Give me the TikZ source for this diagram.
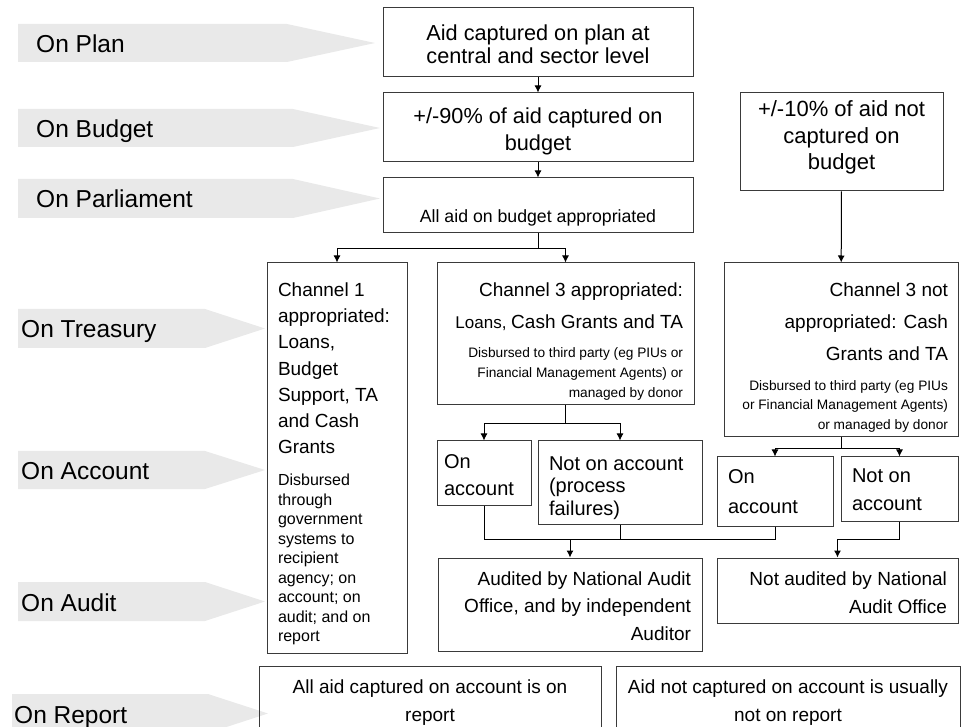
\documentclass[tikz,border=0pt]{standalone}
\usepackage{fontspec}
\setmainfont{Liberation Sans}
\usetikzlibrary{arrows.meta}
\definecolor{bandgray}{HTML}{E9E9E9}
\definecolor{boxline}{HTML}{3A3A3A}
\newcommand{\boxcell}[4]{\begin{minipage}[c][#2][t]{#1}\vspace*{#3}#4\end{minipage}}

\begin{document}
\begin{tikzpicture}[x=1pt,y=-1pt,>={Latex[length=7pt,width=7pt]}]
        \tikzstyle{box}=[draw=boxline,line width=1pt,rectangle,inner sep=0pt]
        \tikzstyle{stage}=[anchor=base west,inner sep=0pt,font=\fontsize{24.5}{28}\selectfont]
        \tikzstyle{link}=[line width=1pt,black]
        \useasboundingbox (0,0) rectangle (962,727);
        \clip (0,0) rectangle (962,727);

        \fill[bandgray] (18,24) -- (287,24) -- (375,43) -- (287,62) -- (18,62) -- cycle;
        \fill[bandgray] (18,109) -- (293,109) -- (380,128) -- (293,147) -- (18,147) -- cycle;
        \fill[bandgray] (18,179) -- (293,179) -- (380,198.5) -- (293,218) -- (18,218) -- cycle;
        \fill[bandgray] (18,309) -- (205,309) -- (265,328.5) -- (205,348) -- (18,348) -- cycle;
        \fill[bandgray] (18,451) -- (205,451) -- (265,470) -- (205,489) -- (18,489) -- cycle;
        \fill[bandgray] (18,582) -- (205,582) -- (265,601.5) -- (205,621) -- (18,621) -- cycle;
        \fill[bandgray] (12,694) -- (208,694) -- (268,713.5) -- (208,733) -- (12,733) -- cycle;
        \node[stage] (sPlan) at (36,52.5) {On Plan};
        \node[stage] (sBudget) at (36,137.5) {On Budget};
        \node[stage] (sParl) at (36,208) {On Parliament};
        \node[stage] (sTreas) at (21,338) {On Treasury};
        \node[stage] (sAcc) at (21,479.5) {On Account};
        \node[stage] (sAudit) at (21,611) {On Audit};
        \node[stage] (sReport) at (14,723) {On Report};

        \node[box,minimum width=310pt,minimum height=69pt] (plan) at (538,42.5)
            {\boxcell{290pt}{69pt}{17pt}{\centering\fontsize{21.7}{22.5}\selectfont
            Aid captured on plan at\\central and sector level}};
        \node[box,minimum width=310pt,minimum height=69pt] (onbud) at (538,127.5)
            {\boxcell{290pt}{69pt}{15pt}{\centering\fontsize{21.7}{27}\selectfont
            +/-90\% of aid captured on\\budget}};
        \node[box,minimum width=310pt,minimum height=55pt] (approp) at (538,205.5)
            {\boxcell{290pt}{55pt}{32pt}{\centering\fontsize{17.7}{20}\selectfont
            All aid on budget appropriated}};
        \node[box,minimum width=203pt,minimum height=98pt] (offbud) at (841.5,142)
            {\boxcell{190pt}{98pt}{8pt}{\centering\fontsize{22}{26.5}\selectfont
            +/-10\% of aid not\\captured on\\budget}};

        \node[box,minimum width=140pt,minimum height=390pt] (ch1) at (337,458)
            {\boxcell{118pt}{390pt}{20pt}{\raggedright\fontsize{19}{26.1}\selectfont
            Channel 1\\appropriated:\\Loans,\\Budget\\Support, TA\\and Cash\\Grants\par
            \vspace{13pt}\fontsize{16}{19.5}\selectfont
            Disbursed\\through\\government\\systems to\\recipient\\agency; on\\account; on\\audit; and on\\report}};
        \node[box,minimum width=257pt,minimum height=142pt] (ch3) at (565.5,334)
            {\boxcell{235pt}{142pt}{20pt}{\raggedleft\fontsize{19}{31.8}\selectfont
            Channel 3 appropriated:\\{\fontsize{17}{31.8}\selectfont Loans, }Cash Grants and TA\par
            \vspace{9pt}\fontsize{13.7}{20}\selectfont
            Disbursed to third party (eg PIUs or\\Financial Management Agents) or\\managed by donor}};
        \node[box,minimum width=234pt,minimum height=174pt] (ch3n) at (841,350)
            {\boxcell{214pt}{174pt}{20pt}{\raggedleft\fontsize{19}{31.8}\selectfont
            Channel 3 not\\appropriated: Cash\\Grants and TA\par
            \vspace{10.5pt}\fontsize{13.7}{19.5}\selectfont
            Disbursed to third party (eg PIUs\\or Financial Management Agents)\\or managed by donor}};

        \node[box,minimum width=94pt,minimum height=64pt] (oa1) at (484,473)
            {\boxcell{80pt}{64pt}{14pt}{\raggedright\fontsize{20}{26.7}\selectfont On\\account}};
        \node[box,minimum width=164pt,minimum height=83pt] (npf) at (620,482.5)
            {\boxcell{142pt}{83pt}{15.7pt}{\raggedright\fontsize{20}{22.3}\selectfont
            Not on account\\(process\\failures)}};
        \node[box,minimum width=116pt,minimum height=69pt] (oa2) at (775,491.5)
            {\boxcell{94pt}{69pt}{13pt}{\raggedright\fontsize{20}{30}\selectfont On\\account}};
        \node[box,minimum width=117pt,minimum height=64pt] (noa2) at (899.5,489)
            {\boxcell{95pt}{64pt}{11.3pt}{\raggedright\fontsize{20}{28.3}\selectfont Not on\\account}};

        \node[box,minimum width=264pt,minimum height=93pt] (aud) at (570,604.5)
            {\boxcell{242pt}{93pt}{13.7pt}{\raggedleft\fontsize{19}{27.5}\selectfont
            Audited by National Audit\\Office, and by independent\\Auditor}};
        \node[box,minimum width=241pt,minimum height=65pt] (naud) at (837.5,590.5)
            {\boxcell{219pt}{65pt}{13.7pt}{\raggedleft\fontsize{19}{28}\selectfont
            Not audited by National\\Audit Office}};

        \node[box,minimum width=342pt,minimum height=80pt] (rep1) at (430,706)
            {\boxcell{320pt}{80pt}{14pt}{\centering\fontsize{19}{27.4}\selectfont
            All aid captured on account is on\\report}};
        \node[box,minimum width=344pt,minimum height=80pt] (rep2) at (788,706)
            {\boxcell{322pt}{80pt}{14pt}{\centering\fontsize{19}{27.4}\selectfont
            Aid not captured on account is usually\\not on report}};

        \draw[link,->] (plan) -- (onbud);
        \draw[link,->] (onbud) -- (approp);
        \draw[link,->] (approp.south) -- ++(0,15) -| (ch1.north);
        \draw[link,->] (approp.south) -- ++(0,15) -| (ch3.north);
        \draw[link,->] (offbud) -- (ch3n);
        \draw[link,->] (ch3.south) -- ++(0,18) -| (oa1.north);
        \draw[link,->] (ch3.south) -- ++(0,18) -| (npf.north);
        \draw[link,->] (ch3n.south) -- ++(0,11) -| (oa2.north);
        \draw[link,->] (ch3n.south) -- ++(0,11) -| (noa2.north);
        \coordinate (merge) at (570,539);
        \draw[link] (oa1.south) |- (merge);
        \draw[link] (npf.south) |- (merge);
        \draw[link] (oa2.south) |- (merge);
        \draw[link,->] (merge) -- (aud.north);
        \draw[link,->] (noa2.south) -- ++(0,18) -| (naud.north);
    \end{tikzpicture}
\end{document}
